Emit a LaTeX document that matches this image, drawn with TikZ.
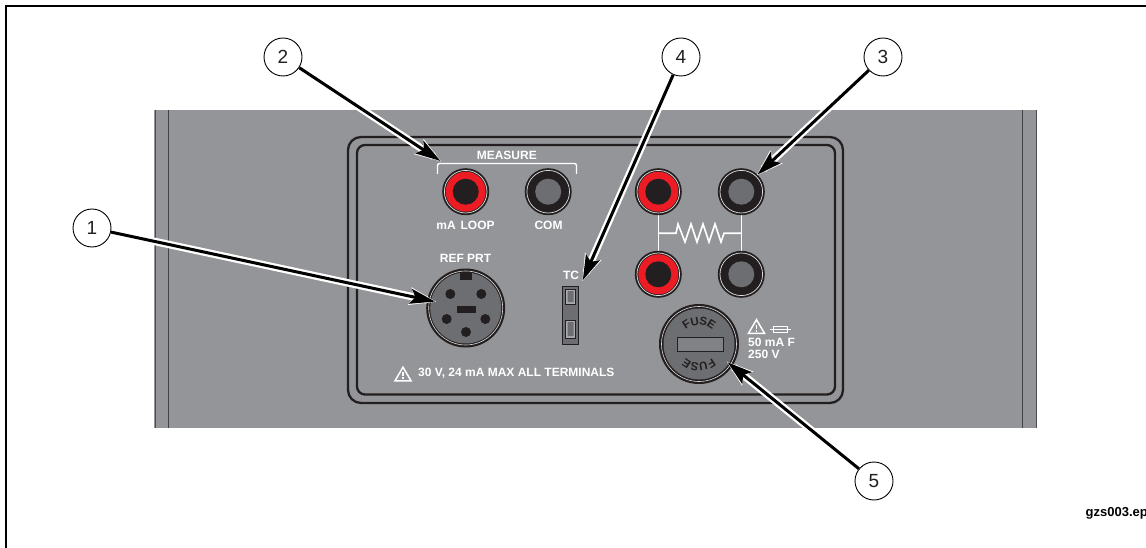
\documentclass[tikz,border=0pt]{standalone}
\usepackage{fontspec}
\setmainfont{Liberation Sans}
\usetikzlibrary{arrows.meta}
\definecolor{panel}{HTML}{939598}
\definecolor{inkd}{HTML}{231F20}
\definecolor{jackred}{HTML}{ED1C24}
\definecolor{jackgray}{HTML}{6D6E71}
\definecolor{slotgray}{HTML}{808285}
\tikzset{
  x=1pt,y=-1pt,
  balloon/.style={circle,draw=black,fill=white,line width=0.9pt,minimum size=38pt,inner sep=0pt,font=\fontsize{19}{19}\selectfont,text=inkd},
  plate/.style={draw=inkd,line width=2.3pt},
  lbl/.style={text=white,font=\bfseries\fontsize{12}{13}\selectfont,inner sep=0pt},
  wire/.style={draw=white,line width=1.6pt},
  callcase/.style={draw=white,line width=7.5pt,shorten <=2pt,shorten >=10pt},
  headcase/.style={draw=white,fill=white,line width=1pt,line join=miter},
  callline/.style={draw=black,line width=3pt,shorten >=2pt,-{Stealth[length=25pt,width=15pt,inset=5pt]}},
  fusel/.style={text=inkd,font=\bfseries\fontsize{11.5}{12}\selectfont,inner sep=0pt},
  pin/.style={circle,fill=inkd,minimum size=10pt,inner sep=0pt},
}
\newcommand{\jack}[3]{%
  \fill[inkd] (#1,#2) circle (23.5);
  \draw[white!75!gray,line width=0.7pt] (#1,#2) circle (21.3);
  \fill[#3] (#1,#2) circle (20);
  \fill[inkd] (#1,#2) circle (13);}
\newcommand{\darkjack}[2]{%
  \fill[inkd] (#1,#2) circle (23.5);
  \draw[white!75!gray,line width=0.7pt] (#1,#2) circle (21.3);
  \fill[jackgray] (#1,#2) circle (13);}
\newcommand{\warntri}[3]{%
  \draw[white,line width=1.5pt,line join=miter] (#1-#3,#2+#3*0.85) -- (#1,#2-#3*0.85) -- (#1+#3,#2+#3*0.85) -- cycle;
  \draw[white,line width=1.3pt] (#1,#2-#3*0.25) -- (#1,#2+#3*0.3) (#1,#2+#3*0.42) -- (#1,#2+#3*0.65);}
\begin{document}
\begin{tikzpicture}
\useasboundingbox (0,0) rectangle (1146,548);
\fill[white] (0,0) rectangle (1146,548);
% frame
\draw[black,line width=2pt] (1146,6.5) -- (6,6.5) -- (6,548);
% panel
\fill[panel] (154,110) rectangle (1037,428);
\draw[jackgray!70!black,line width=1pt] (155,110) -- (155,428) (1036.5,110) -- (1036.5,428);
\draw[jackgray!60!black,line width=1.2pt] (168.5,110) -- (168.5,428) (1022.5,110) -- (1022.5,428);
% plates
\draw[plate,rounded corners=13pt] (348,137) rectangle (843,403);
\draw[plate,rounded corners=8pt] (357,145) rectangle (835,394.5);
% measure
\draw[white,line width=1.4pt,rounded corners=2pt] (437.5,174) -- (437.5,163.5) -- (576.5,163.5) -- (576.5,174);
\node[lbl] (measure) at (506.8,155.7) {MEASURE};
\jack{465.7}{191.7}{jackred}
\darkjack{548.2}{191.7}
\node[lbl] (maloop) at (465.5,225.5) {mA\hspace{5pt}LOOP};
\node[lbl] (com) at (548.5,225.5) {COM};
% ref prt
\node[lbl] (refprt) at (465.5,258.5) {REF PRT};
\fill[inkd] (465.7,308) circle (39.5);
\draw[white!75!gray,line width=0.6pt] (465.7,308) circle (37);
\fill[jackgray] (465.7,308) circle (35.5);
\fill[inkd] (460,272) rectangle (472,280);
\fill[inkd] (457,306) rectangle (476,313);
\node[pin] (p1) at (450.3,294) {};
\node[pin] (p2) at (481.3,294) {};
\node[pin] (p3) at (446.7,319) {};
\node[pin] (p4) at (485.3,319) {};
\node[pin] (p5) at (466,332) {};
% TC
\node[lbl] (tc) at (571,275) {TC};
\fill[jackgray,draw=inkd,line width=1pt] (562.5,286) rectangle (578.5,344);
\fill[panel!80!white,draw=inkd,line width=1pt] (565.5,289) rectangle (575.5,304);
\fill[panel!80!white,draw=inkd,line width=1pt] (565.5,320) rectangle (575.5,338);
\fill[jackgray] (567.5,291) rectangle (573.5,302) (567.5,322) rectangle (573.5,336);
% warning
\warntri{403}{374}{8}
\node[lbl,anchor=west] (warn) at (418,373.5) {30 V, 24 mA MAX ALL TERMINALS};
% right jacks
\draw[wire] (658.3,205) -- (658.3,262) (741.3,205) -- (741.3,262);
\draw[wire,line join=miter] (658.3,233.3) -- (676,233.3) -- (678,224) -- (685,242) -- (691,224) -- (697,242) -- (703,224) -- (709,242) -- (715,224) -- (721,242) -- (724,233.3) -- (741.3,233.3);
\jack{658.3}{191.7}{jackred}
\darkjack{741.3}{191.7}
\jack{658.3}{274.3}{jackred}
\darkjack{741.3}{274.3}
% fuse
\fill[inkd] (699,344) circle (40);
\draw[white!75!gray,line width=0.6pt] (699,344) circle (37.5);
\fill[jackgray] (699,344) circle (35.5);
\fill[slotgray,draw=inkd,line width=1pt] (677,337.5) rectangle (723,351);
\foreach \a/\c/\i in {-33/F/a,-11/U/b,11/S/c,33/E/d}{
  \node[fusel,rotate={-\a}] (ft\i) at ({699+sin(\a)*23},{344-cos(\a)*23}) {\c};
  \node[fusel,rotate={180-\a}] (fb\i) at ({699-sin(\a)*23},{344+cos(\a)*23}) {\c};
}
% fuse label
\warntri{756.5}{326.5}{8}
\draw[white,line width=0.8pt] (770,329) -- (791,329);
\draw[white,line width=0.8pt] (773.5,326) rectangle (787,332);
\node[lbl,anchor=west] (fa) at (748,342.5) {50 mA F};
\node[lbl,anchor=west] (fv) at (748,354.5) {250 V};
% outer label
\node[anchor=west,inner sep=0pt,font=\bfseries\fontsize{13}{14}\selectfont] (file) at (1085.5,513.5) {gzs003.ep};
% balloons
\node[balloon] (n1) at (92,228) {1};
\node[balloon] (n2) at (283,57) {2};
\node[balloon] (n3) at (883,57) {3};
\node[balloon] (n4) at (681,57) {4};
\node[balloon] (n5) at (874,481) {5};
\coordinate (t1) at (437,302);
\coordinate (t2) at (442,162);
\coordinate (t3) at (756,176);
\coordinate (t4) at (582,282);
\coordinate (t5) at (726,361);
% white stripe sits to one side of each black shaft
\foreach \n/\dx/\dy in {1/-0.4/-2, 2/1.4/1.4, 3/1.4/-1.4, 4/1.8/0.8, 5/1.4/1.4}{
  \begin{scope}[xshift=\dx pt,yshift=\dy pt]
    \draw[callcase] (n\n) -- (t\n);
  \end{scope}
  \draw[draw=white,line width=1.6pt,shorten >=1pt,-{Stealth[length=27pt,width=18pt,inset=5pt]}] (n\n) -- (t\n);
  \draw[callline] (n\n) -- (t\n);
}
\end{tikzpicture}
\end{document}
